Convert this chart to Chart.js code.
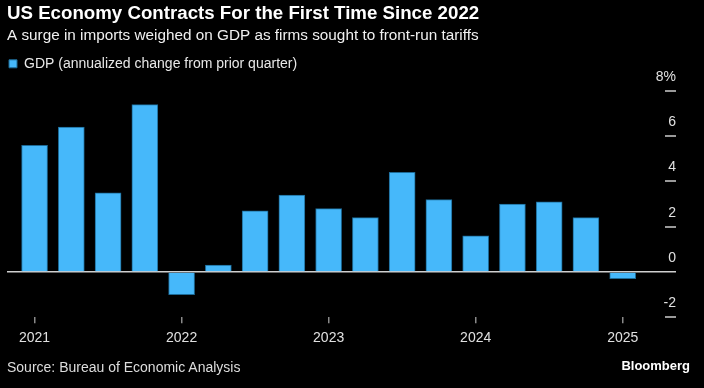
<!DOCTYPE html>
<html lang="en">
<head>
  <meta charset="UTF-8" />
  <title>US Economy Contracts For the First Time Since 2022</title>
  <style>
    body { margin: 0; background: #000; }
    #wrap { position: relative; width: 704px; height: 388px; }
    .note { position: absolute; font-family: "Liberation Sans", Arial, sans-serif; }
    #source { left: 7px; top: 359px; font-size: 14px; color: #ddd; }
    #brand { right: 14px; top: 358px; font-size: 13px; font-weight: bold; color: #fff; }
  </style>
</head>
<body>
<div id="wrap">
  <canvas id="chart"></canvas>
  <div id="source" class="note">Source: Bureau of Economic Analysis</div>
  <div id="brand" class="note">Bloomberg</div>
</div>
<script src="https://cdn.jsdelivr.net/npm/chart.js"></script>
<script>
  // Quarterly GDP, annualized change from prior quarter (%)
  const quarters = ['2021 Q1', '2021 Q2', '2021 Q3', '2021 Q4',
                    '2022 Q1', '2022 Q2', '2022 Q3', '2022 Q4',
                    '2023 Q1', '2023 Q2', '2023 Q3', '2023 Q4',
                    '2024 Q1', '2024 Q2', '2024 Q3', '2024 Q4',
                    '2025 Q1'];
  const gdp = [5.6, 6.4, 3.5, 7.4, -1.0, 0.3, 2.7, 3.4, 2.8, 2.4, 4.4, 3.2, 1.6, 3.0, 3.1, 2.4, -0.3];
  const yTicks = [-2, 0, 2, 4, 6, 8];

  Chart.defaults.font.family = '"Liberation Sans", Arial, sans-serif';

  // short grey dashes at the right end of each value tick
  const yDashes = {
    id: 'yDashes',
    afterDraw(chart) {
      const y = chart.scales.y;
      const ctx = chart.ctx;
      const right = chart.chartArea.right;
      ctx.save();
      ctx.strokeStyle = '#9a9a9a';
      ctx.lineWidth = 2;
      y.ticks.forEach(t => {
        if (t.value === 0) return;
        const py = Math.round(y.getPixelForValue(t.value));
        ctx.beginPath();
        ctx.moveTo(right - 11, py);
        ctx.lineTo(right, py);
        ctx.stroke();
      });
      ctx.restore();
    }
  };

  new Chart(document.getElementById('chart'), {
    type: 'bar',
    data: {
      datasets: [{
        label: 'GDP (annualized change from prior quarter)',
        data: gdp.map((v, i) => ({ x: i, y: v })),
        backgroundColor: '#46b8fa',
        borderColor: '#1d6a96',
        borderWidth: 1,
        barThickness: 26
      }]
    },
    options: {
      responsive: true,
      maintainAspectRatio: false,
      animation: false,
      layout: { padding: { top: 0, left: 7, right: 28, bottom: 35 } },
      plugins: {
        tooltip: { enabled: false },
        title: {
          display: true,
          text: 'US Economy Contracts For the First Time Since 2022',
          align: 'start',
          color: '#fff',
          font: { size: 18.7, weight: 'bold' },
          padding: { top: 3, bottom: 0 }
        },
        subtitle: {
          display: true,
          text: 'A surge in imports weighed on GDP as firms sought to front-run tariffs',
          align: 'start',
          color: '#f0f0f0',
          font: { size: 15.3 },
          padding: { top: 1, bottom: 10 }
        },
        legend: {
          align: 'start',
          labels: { boxWidth: 8, boxHeight: 8, padding: 2, color: '#e8e8e8', font: { size: 14 } }
        }
      },
      scales: {
        x: {
          type: 'linear',
          offset: false,
          min: -0.75,
          max: 17.45,
          afterBuildTicks: s => {
            s.ticks = quarters.map((q, i) => ({ value: i, q })).filter(t => t.q.endsWith('Q1')).map(t => ({ value: t.value }));
          },
          border: { display: false },
          grid: { offset: false, drawOnChartArea: false, tickLength: 6, color: '#8a8a8a', lineWidth: 1.5 },
          ticks: { padding: 6.5, color: '#e0e0e0', font: { size: 14 }, maxRotation: 0, autoSkip: false,
                   callback: v => quarters[v].slice(0, 4) }
        },
        y: {
          position: 'right',
          min: -2,
          max: 8.45,
          afterBuildTicks: s => { s.ticks = yTicks.map(v => ({ value: v })); },
          border: { display: false },
          grid: { drawTicks: false, lineWidth: 1.5,
                  color: c => (c.tick && c.tick.value === 0) ? '#cfcfcf' : 'transparent' },
          ticks: { mirror: true, padding: 0, labelOffset: -14, color: '#e0e0e0', font: { size: 14 },
                   callback: v => v === 8 ? v + '%' : v }
        }
      }
    },
    plugins: [yDashes]
  });
</script>
</body>
</html>
